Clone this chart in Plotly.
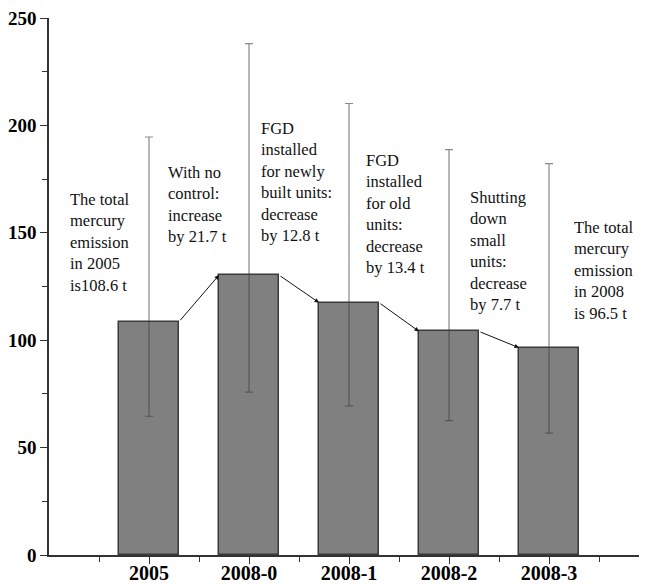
import plotly.graph_objects as go

# ---- data ----
categories = ["2005", "2008-0", "2008-1", "2008-2", "2008-3"]
emission = [108.6, 130.3, 117.5, 104.1, 96.5]
err_upper = [194.6, 238.1, 210.2, 188.7, 182.2]
err_lower = [64.6, 75.8, 69.4, 62.6, 56.7]
notes = [
    "The total<br>mercury<br>emission<br>in 2005<br>is108.6 t",
    "With no<br>control:<br>increase<br>by 21.7 t",
    "FGD<br>installed<br>for newly<br>built units:<br>decrease<br>by 12.8 t",
    "FGD<br>installed<br>for old<br>units:<br>decrease<br>by 13.4 t",
    "Shutting<br>down<br>small<br>units:<br>decrease<br>by 7.7 t",
    "The total<br>mercury<br>emission<br>in 2008<br>is 96.5 t",
]

# ---- layout helpers (positions/styles) ----
xpos = list(range(1, len(categories) + 1))
bar_w = 0.6
note_x = [0.19, 1.17, 2.095, 3.15, 4.19, 5.23]
note_y = [145.4, 163.1, 173.6, 158.7, 141.4, 132.3]

serif = "Liberation Serif, Times New Roman, serif"

fig = go.Figure()
fig.add_trace(go.Bar(
    x=xpos, y=emission, width=bar_w,
    marker=dict(color="#808080", line=dict(color="#3a3a3a", width=1.5)),
    error_y=dict(
        type="data", symmetric=False,
        array=[u - v for u, v in zip(err_upper, emission)],
        arrayminus=[v - l for v, l in zip(emission, err_lower)],
        color="rgba(60,60,60,0.6)", thickness=1.2, width=4,
    ),
    showlegend=False, hoverinfo="skip",
))

annotations = []
for tx, ty, t in zip(note_x, note_y, notes):
    annotations.append(dict(
        x=tx, y=ty, xref="x", yref="y", text=t, showarrow=False,
        xanchor="left", yanchor="middle", align="left",
        font=dict(family=serif, size=16.5, color="#111"),
    ))

for i in range(len(xpos) - 1):
    annotations.append(dict(
        x=xpos[i + 1] - bar_w / 2, y=emission[i + 1],
        ax=xpos[i] + bar_w / 2, ay=emission[i],
        xref="x", yref="y", axref="x", ayref="y",
        text="", showarrow=True, arrowhead=2, arrowsize=0.9,
        arrowwidth=1, arrowcolor="#111", standoff=0, startstandoff=0,
    ))

# page body adds an 8px offset; margins compensate for it
fig.update_layout(
    width=647, height=584,
    margin=dict(l=41, r=0, t=10, b=37),
    plot_bgcolor="white", paper_bgcolor="white",
    annotations=annotations,
    bargap=0,
)
fig.update_xaxes(
    range=[0, 6.06], tickmode="array", tickvals=xpos, ticktext=categories,
    showline=True, linecolor="#333", linewidth=1.5, mirror=False,
    ticks="outside", ticklen=7, tickwidth=1.2, tickcolor="#333",
    minor=dict(tickmode="array", tickvals=[p - 0.5 for p in xpos] + [xpos[-1] + 0.5],
               ticks="outside", ticklen=5, tickwidth=1.2, tickcolor="#333"),
    tickfont=dict(family=serif, size=20, color="black", weight="bold"),
    ticklabelstandoff=-8, ticklabeloverflow="allow",
    showgrid=False, zeroline=False, fixedrange=True, automargin=False,
)
fig.update_yaxes(
    range=[0, 250], tickmode="linear", tick0=0, dtick=50,
    showline=True, linecolor="#333", linewidth=1.5,
    ticks="outside", ticklen=7, tickwidth=1.2, tickcolor="#333",
    minor=dict(dtick=25, ticks="outside", ticklen=5, tickwidth=1.2, tickcolor="#333"),
    tickfont=dict(family=serif, size=19, color="black", weight="bold"),
    ticklabeloverflow="allow",
    showgrid=False, zeroline=False, fixedrange=True, automargin=False,
)

fig.write_html("out.html")
